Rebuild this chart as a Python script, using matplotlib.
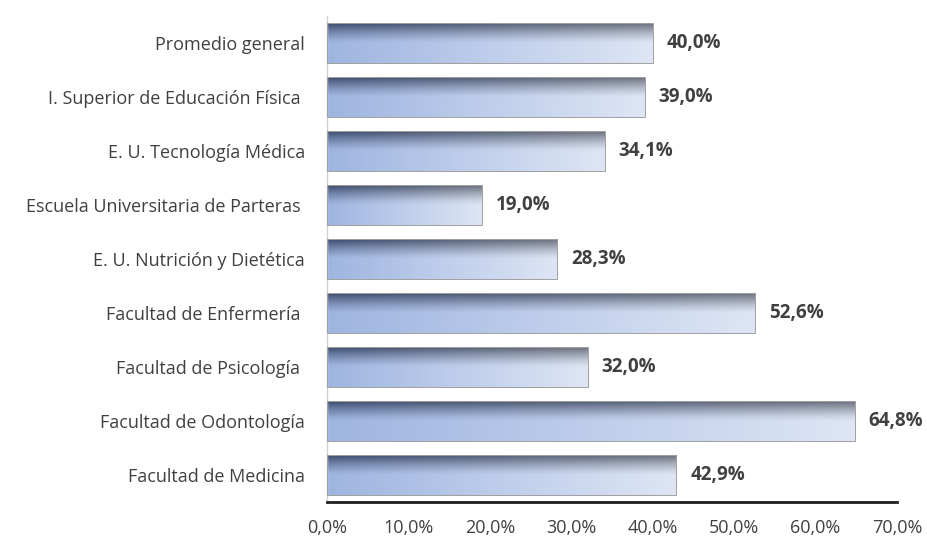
import numpy as np
import matplotlib
matplotlib.use("Agg")
import matplotlib.pyplot as plt

# datos (de arriba hacia abajo)
categorias = ["Promedio general", "I. Superior de Educación Física ",
              "E. U. Tecnología Médica", "Escuela Universitaria de Parteras ",
              "E. U. Nutrición y Dietética", "Facultad de Enfermería ",
              "Facultad de Psicología ", "Facultad de Odontología",
              "Facultad de Medicina"]
valores = [40.0, 39.0, 34.1, 19.0, 28.3, 52.6, 32.0, 64.8, 42.9]
ticks_x = [0, 10, 20, 30, 40, 50, 60, 70]

plt.rcParams['font.family'] = ['Open Sans', 'DejaVu Sans']
gris = "#404040"

fig = plt.figure(figsize=(9.28, 5.38), dpi=100)
ax = fig.add_axes([0.3524, 0.0669, 0.6142, 0.9033])

alto = 0.74

def degradado(largo):
    nx, ny = 200, 60
    u = np.linspace(0, 1, nx)[None, :, None]
    t = np.linspace(0, 1, ny)[:, None, None]
    c1 = np.array([0.62, 0.71, 0.88])
    c2 = np.array([0.87, 0.90, 0.96])
    base = c1 + (c2 - c1) * u
    d1 = np.array([0.24, 0.30, 0.43])
    d2 = np.array([0.42, 0.44, 0.49])
    oscuro = d1 + (d2 - d1) * u
    w = np.clip(1 - t / 0.5, 0, 1) ** 1.3
    img = base * (1 - w) + oscuro * w
    return img

for i, (cat, v) in enumerate(zip(categorias, valores)):
    ax.imshow(degradado(v), extent=(0, v, i + alto / 2, i - alto / 2),
              aspect='auto', origin='upper', zorder=2, interpolation='bilinear')
    ax.text(v + 1.7, i, f"{v:.1f}%".replace(".", ","), va='center', ha='left',
            fontsize=13.5, fontweight='bold', color=gris)

ax.barh(range(len(valores)), valores, height=alto, facecolor='none',
        edgecolor='#a0a0a0', linewidth=0.7, zorder=3)

ax.set_xlim(0, 70)
ax.set_ylim(len(valores) - 0.5, -0.5)
ax.set_yticks(range(len(categorias)))
ax.set_yticklabels(categorias, fontsize=13, color=gris)
ax.set_xticks(ticks_x)
ax.set_xticklabels([f"{t:.1f}%".replace(".", ",") for t in ticks_x],
                   fontsize=13, color=gris)
ax.tick_params(axis='y', length=0, pad=16)
ax.tick_params(axis='x', length=0, pad=12)

for s in ['top', 'right']:
    ax.spines[s].set_visible(False)
ax.spines['left'].set_color('#d0d0d0')
ax.spines['left'].set_linewidth(1)
ax.spines['bottom'].set_color('#202020')
ax.spines['bottom'].set_linewidth(2)

fig.savefig("out.png", dpi=100)
